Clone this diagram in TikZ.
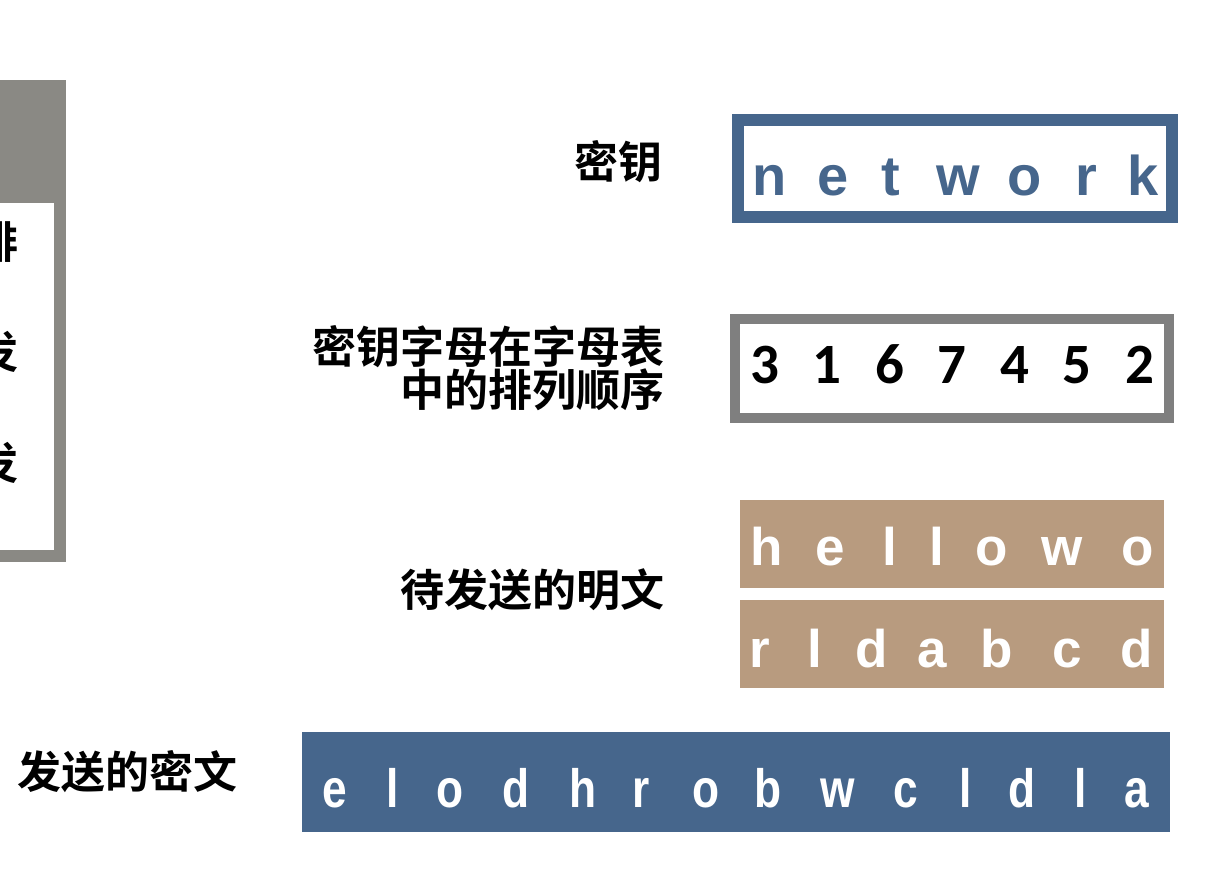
\documentclass[tikz,border=0pt]{standalone}
\usepackage{fontspec}
\newfontfamily\cjk{Noto Sans CJK SC}[BoldFont={Noto Sans CJK SC Bold}]
\newfontfamily\arialf{Liberation Sans}
\newfontfamily\narrowf{Liberation Sans}[FakeStretch=0.82]
\newfontfamily\calf{Carlito}
\definecolor{keyblue}{HTML}{46668C}
\definecolor{numgray}{HTML}{7F7F7F}
\definecolor{tan}{HTML}{B89B7F}
\definecolor{leftgray}{HTML}{8A8984}
\tikzset{
  lbl/.style={anchor=east, inner sep=0pt, font=\cjk\bfseries\fontsize{44}{41}\selectfont, align=right},
  keych/.style={anchor=base, inner sep=0pt, text=keyblue, font=\arialf\bfseries\fontsize{56}{60}\selectfont},
  numch/.style={anchor=base, inner sep=0pt, text=black, font=\calf\bfseries\fontsize{57}{60}\selectfont},
  plainch/.style={anchor=base, inner sep=0pt, text=white, font=\arialf\bfseries\fontsize{53}{60}\selectfont},
  ciphch/.style={anchor=base, inner sep=0pt, text=white, font=\narrowf\bfseries\fontsize{54}{60}\selectfont},
  sidech/.style={anchor=center, inner sep=0pt, font=\cjk\bfseries\fontsize{44}{44}\selectfont},
}
\begin{document}
\begin{tikzpicture}[x=1pt,y=-1pt]
\useasboundingbox (0,0) rectangle (1214,868);
% left partial box
\draw[line width=12pt, draw=leftgray] (-100,86) rectangle (60,556);
\fill[leftgray] (-100,80) rectangle (66,203);
\node[sidech] (s1) at (-3,242) {排};
\node[sidech] (s2) at (-3,352) {发};
\node[sidech] (s3) at (-3,463) {发};
% key
\node[lbl] (lkey) at (663,162) {密钥};
\draw[line width=12pt, draw=keyblue] (738,120) rectangle (1172,217);
\foreach \c/\x [count=\i] in {n/770,e/833,t/891,w/958,o/1025,r/1086,k/1143}
  \node[keych] (k\i) at (\x,195) {\c};
% order
\node[lbl] (lord) at (665,368) {密钥字母在字母表\\中的排列顺序};
\draw[line width=10pt, draw=numgray] (735,319) rectangle (1169,418);
\foreach \c/\x [count=\i] in {3/765,1/827,6/890,7/952,4/1015,5/1077,2/1140}
  \node[numch] (n\i) at (\x,383) {\c};
% plaintext
\node[lbl] (lplain) at (665,590) {待发送的明文};
\fill[tan] (740,500) rectangle (1164,588);
\fill[tan] (740,600) rectangle (1164,688);
\foreach \c/\x [count=\i] in {h/767,e/830,l/890,l/937,o/992,w/1062,o/1138}
  \node[plainch] (p\i) at (\x,565) {\c};
\foreach \c/\x [count=\i] in {r/760,l/815,d/872,a/932,b/997,c/1067,d/1137}
  \node[plainch] (q\i) at (\x,667) {\c};
% cipher
\node[lbl] (lciph) at (238,772) {发送的密文};
\fill[keyblue] (302,732) rectangle (1170,832);
\foreach \c/\x [count=\i] in {e/335,l/393,o/450,d/516,h/583,r/641,o/706,b/768,w/838,c/906,l/966,d/1022,l/1081,a/1137}
  \node[ciphch] (c\i) at (\x,807) {\c};
\end{tikzpicture}
\end{document}
